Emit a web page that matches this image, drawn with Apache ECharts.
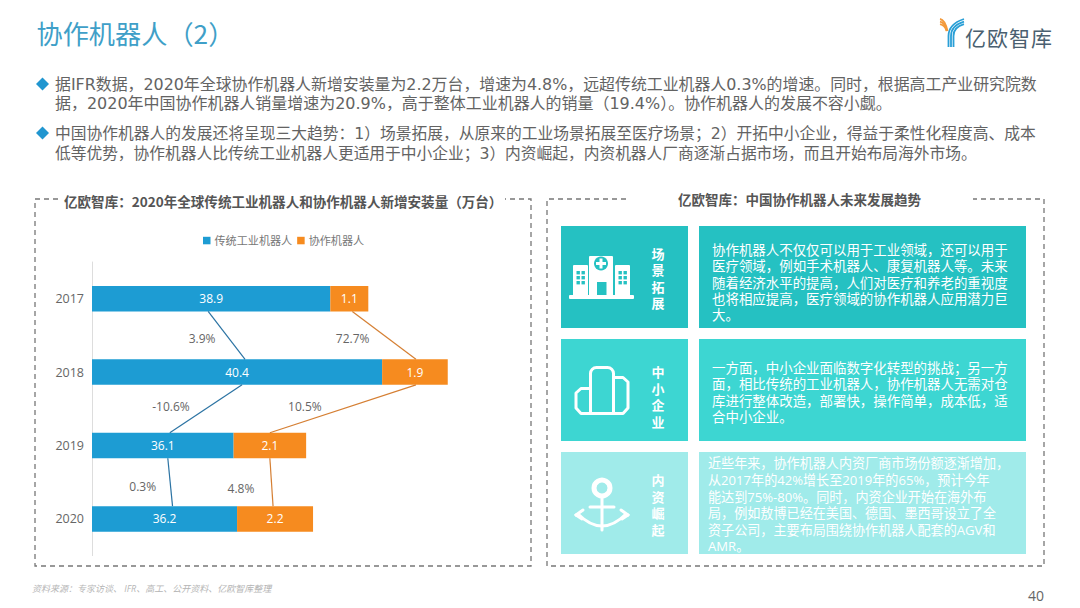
<!DOCTYPE html>
<html><head><meta charset="utf-8">
<style>html,body{margin:0;padding:0;background:#fff}#c{width:1080px;height:608px}</style>
<script src="https://cdn.jsdelivr.net/npm/echarts@6/dist/echarts.min.js"></script>
</head><body><div id="c"></div>
<script>
const categories = ['2017','2018','2019','2020'];
const traditional = [38.9,40.4,36.1,36.2];
const collaborative = [1.1,1.9,2.1,2.2];
const growthTraditional = ['3.9%','-10.6%','0.3%'];
const growthCollaborative = ['72.7%','10.5%','4.8%'];
const seriesNames = ['传统工业机器人','协作机器人'];

const pageTitle = '协作机器人（2）';
const bullets = [
 ['据IFR数据，2020年全球协作机器人新增安装量为2.2万台，增速为4.8%，远超传统工业机器人0.3%的增速。同时，根据高工产业研究院数',
  '据，2020年中国协作机器人销量增速为20.9%，高于整体工业机器人的销量（19.4%）。协作机器人的发展不容小觑。'],
 ['中国协作机器人的发展还将呈现三大趋势：1）场景拓展，从原来的工业场景拓展至医疗场景；2）开拓中小企业，得益于柔性化程度高、成本',
  '低等优势，协作机器人比传统工业机器人更适用于中小企业；3）内资崛起，内资机器人厂商逐渐占据市场，而且开始布局海外市场。']
];
const leftHeading = '亿欧智库：2020年全球传统工业机器人和协作机器人新增安装量（万台）';
const rightHeading = '亿欧智库：中国协作机器人未来发展趋势';
const trendNames = ['场景拓展','中小企业','内资崛起'];
const trendTexts = [
 ['协作机器人不仅仅可以用于工业领域，还可以用于','医疗领域，例如手术机器人、康复机器人等。未来','随着经济水平的提高，人们对医疗和养老的重视度','也将相应提高，医疗领域的协作机器人应用潜力巨','大。'],
 ['一方面，中小企业面临数字化转型的挑战；另一方','面，相比传统的工业机器人，协作机器人无需对仓','库进行整体改造，部署快，操作简单，成本低，适','合中小企业。'],
 ['近些年来，协作机器人内资厂商市场份额逐渐增加，','从2017年的42%增长至2019年的65%，预计今年','能达到75%-80%。同时，内资企业开始在海外布','局，例如敖博已经在美国、德国、墨西哥设立了全','资子公司，主要布局围绕协作机器人配套的AGV和','AMR。']
];
const sourceNote = '资料来源：专家访谈、 IFR、高工、公开资料、亿欧智库整理';
const pageNumber = '40';
const logoChars = ['亿','欧','智','库'];

const FONT = '"Open Sans","Noto Sans CJK SC",sans-serif';
const CJK = '"Noto Sans CJK SC",sans-serif';
const BODY = '"DejaVu Sans","Noto Sans CJK SC",sans-serif';
const AXIS_MIN = 32;
const BAR_H = 25.5;

// pixel nudges for the hand-placed connectors and growth labels of the slide
const blueNudge = [[-3,8,-24.5,3],[5,7,-35,-2],[5,8,-27.5,4]];
const orangeNudge = [[3,1,-31.5,3],[1,0,-38,-2],[0,-2,-30.5,6]];

const blueMid = i => (AXIS_MIN + traditional[i]) / 2;
const orangeMid = i => traditional[i] + collaborative[i] / 2;

const linkRows = [];
growthTraditional.forEach((t,i)=>linkRows.push({from:blueMid(i),to:blueMid(i+1),i,text:t,n:blueNudge[i],color:'#2b73a3'}));
growthCollaborative.forEach((t,i)=>linkRows.push({from:orangeMid(i),to:orangeMid(i+1),i,text:t,n:orangeNudge[i],color:'#d57f33'}));

function T(text,x,y,size,fill,opt){
  opt=opt||{};
  const s={text,x,y,fill,font:(opt.style||'')+' '+(opt.weight||'normal')+' '+size+'px '+(opt.family||FONT),align:opt.align||'left',verticalAlign:'middle'};
  if(opt.lineHeight) s.lineHeight=opt.lineHeight;
  return {type:'text',silent:true,style:s};
}
const g=[];
// title
g.push(T(pageTitle,36.5,33,26.2,'#3f9fc8',{family:CJK}));
// logo mark
[948.5,951,953.5].forEach((x,k)=>{
  g.push({type:'line',silent:true,shape:{x1:x,y1:47,x2:x,y2:36},style:{stroke:'#2a9fd6',lineWidth:1.8}});
  g.push({type:'bezierCurve',silent:true,shape:{x1:x,y1:36,x2:964,y2:19+k*2.6,cpx1:x,cpy1:24+k*1.6},style:{stroke:'#2a9fd6',lineWidth:1.8,fill:'none'}});
});
[0,1,2].forEach(k=>{
  g.push({type:'bezierCurve',silent:true,shape:{x1:940,y1:19+k*2.6,x2:947.5-k*0.5,y2:31,cpx1:945,cpy1:20+k*2.6},style:{stroke:'#f39a3c',lineWidth:1.8,fill:'none'}});
});
logoChars.forEach((ch,k)=>g.push(T(ch,965+k*22,37,21,'#4a5f70',{family:CJK})));
// bullets
const bulletY=[[84,103],[133,153]];
const bulletSize=[[15.9,15.97],[15.76,15.72]];
bullets.forEach((b,i)=>{
  const y=bulletY[i][0];
  g.push({type:'polygon',silent:true,shape:{points:[[42.5,y-6.5],[49,y],[42.5,y+6.5],[36,y]]},style:{fill:'#2196d0'}});
  b.forEach((line,j)=>g.push(T(line,55,bulletY[i][j],bulletSize[i][j],'#636363',{family:BODY})));
});
// dashed boxes
const dash={stroke:'#777',lineWidth:1.3,lineDash:[5,4],fill:'none'};
g.push({type:'polyline',silent:true,shape:{points:[[58,199],[35,199],[35,566],[531,566],[531,199],[505,199]]},style:dash});
g.push({type:'polyline',silent:true,shape:{points:[[626,199],[547,199],[547,566],[1044,566],[1044,199],[973,199]]},style:dash});
g.push(T(leftHeading,64,201,13.55,'#555',{weight:'bold',family:CJK}));
g.push(T(rightHeading,678,199,13.5,'#555',{weight:'bold',family:CJK}));
// trend panels
const rowTop=[226,339,452];
const rowColor=['#25c1c2','#3dd6d2','#a0ebea'];
const rowTextY=[[250,266.3,282.6,298.9,315],[368,384,400.5,417],[463,480,496.6,513,529.6,546]];
const rowNameY=[278,396.5,504.5];
const rowTextX=[712,712,708];
const rowTextSize=[13.45,13.45,13.1];
trendTexts.forEach((lines,r)=>{
  g.push({type:'rect',silent:true,shape:{x:561,y:rowTop[r],width:127,height:102},style:{fill:rowColor[r]}});
  g.push({type:'rect',silent:true,shape:{x:699,y:rowTop[r],width:327,height:102},style:{fill:rowColor[r]}});
  g.push(T(trendNames[r].split('').join('\n'),658,rowNameY[r],13,'#fff',{weight:'bold',align:'center',family:CJK,lineHeight:16.5}));
  lines.forEach((line,k)=>g.push(T(line,rowTextX[r],rowTextY[r][k],rowTextSize[r],'#fff')));
});
// hospital icon
const W='#fff', TC=rowColor[0];
const R=(x,y,w,h,fill,r)=>({type:'rect',silent:true,shape:{x,y,width:w,height:h,r:r||0},style:{fill}});
g.push(R(569,295,65,4,W,1));
g.push(R(573,265,15,31,W,1));
g.push(R(615,265,15,31,W,1));
g.push(R(589,256,24,40,W,1));
g.push({type:'circle',silent:true,shape:{cx:601,cy:263.5,r:7},style:{fill:TC}});
g.push(R(599.5,258.5,3,10,W));g.push(R(596,262,10,3,W));
g.push(R(597,282,9.5,13,TC));
[576.5,581.5,618.5,623.5].forEach(x=>[271,276,281].forEach(y=>g.push(R(x,y,3.4,3.4,TC))));
// small-enterprise icon
const line2={stroke:W,lineWidth:3,fill:'none',lineJoin:'round',lineCap:'round'};
g.push({type:'rect',silent:true,shape:{x:590.5,y:367.5,width:23,height:46,r:[6,6,0,0]},style:line2});
g.push({type:'polyline',silent:true,shape:{points:[[590,388.5],[581,388.5],[576,393],[576,408],[581,413.5],[623,413.5],[628,408],[628,382],[623,377.5],[614,377.5]]},style:line2});
// anchor icon
g.push({type:'circle',silent:true,shape:{cx:602,cy:488,r:8},style:{fill:'none',stroke:W,lineWidth:5}});
const anchorLine=(x1,y1,x2,y2)=>({type:'line',silent:true,shape:{x1,y1,x2,y2},style:{stroke:W,lineWidth:3,lineCap:'round'}});
g.push(anchorLine(602,497,602,530));
g.push(anchorLine(590,507,614,507));
g.push({type:'bezierCurve',silent:true,shape:{x1:578,y1:514,x2:626,y2:514,cpx1:602,cpy1:538},style:{stroke:W,lineWidth:3,fill:'none'}});
g.push(anchorLine(576,515,583,510));g.push(anchorLine(576,515,582,519));
g.push(anchorLine(628,515,621,510));g.push(anchorLine(628,515,622,519));
// footer
g.push(T(sourceNote,32,588,9,'#b5b5b5',{style:'italic'}));
g.push(T(pageNumber,1036,595.5,14,'#666',{align:'center'}));

const chart=echarts.init(document.getElementById('c'),null,{renderer:'svg',width:1080,height:608});
chart.setOption({
  animation:false,
  backgroundColor:'#fff',
  textStyle:{fontFamily:FONT},
  legend:{data:seriesNames,left:203,top:235,padding:0,itemWidth:7.5,itemHeight:7.5,itemGap:5,icon:'rect',
    textStyle:{fontSize:11.1,color:'#777',padding:[0,0,0,-1]}},
  grid:{left:92,top:262,width:449,height:293.6,containLabel:false},
  xAxis:{type:'value',min:AXIS_MIN,max:45,show:false,splitLine:{show:false}},
  yAxis:{type:'category',data:categories,inverse:true,
    axisLine:{lineStyle:{color:'#ddd',width:1}},axisTick:{show:false},
    axisLabel:{fontSize:12.5,color:'#666',margin:8}},
  series:[
    {name:seriesNames[0],type:'bar',stack:'a',barWidth:BAR_H,data:traditional,itemStyle:{color:'#1d9cd3'},
      label:{show:true,position:'inside',color:'#fff',fontSize:12}},
    {name:seriesNames[1],type:'bar',stack:'a',barWidth:BAR_H,data:collaborative,itemStyle:{color:'#f68b1f'},
      label:{show:true,position:'inside',color:'#fff',fontSize:12}},
    {type:'custom',coordinateSystem:'cartesian2d',silent:true,clip:false,z:3,
      data:linkRows.map(r=>[r.from,r.i]),
      renderItem(params,api){
        const r=linkRows[params.dataIndex];
        const a=api.coord([r.from,r.i]), b=api.coord([r.to,r.i+1]);
        const x1=a[0]+r.n[0], y1=a[1]+BAR_H/2, x2=b[0]+r.n[1], y2=b[1]-BAR_H/2;
        return {type:'group',children:[
          {type:'line',shape:{x1,y1,x2,y2},style:{stroke:r.color,lineWidth:1.2}},
          {type:'text',x:(x1+x2)/2+r.n[2],y:(y1+y2)/2+r.n[3],style:{text:r.text,fill:'#666',font:'12px '+FONT,align:'center',verticalAlign:'middle'}}
        ]};
      }}
  ],
  graphic:{elements:g}
});
</script></body></html>
